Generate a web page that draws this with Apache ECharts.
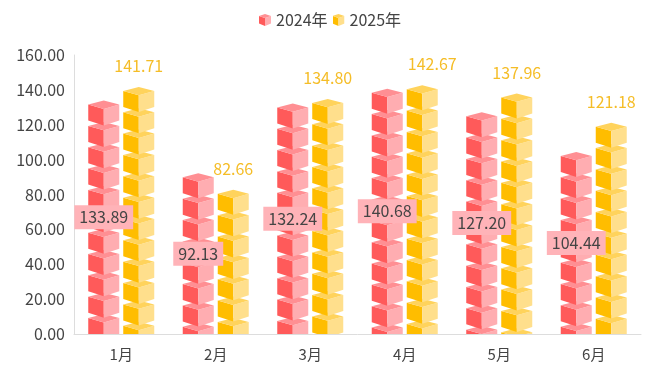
<!DOCTYPE html>
<html>
<head>
<meta charset="utf-8">
<style>
    html, body { margin: 0; padding: 0; background: #fff; }
    #chart { width: 656px; height: 373px; }
</style>
<script src="https://cdn.jsdelivr.net/npm/echarts@6/dist/echarts.min.js"></script>
</head>
<body>
<div id="chart"></div>
<script>
    const categories = ['1月', '2月', '3月', '4月', '5月', '6月']
    const values2024 = [133.89, 92.13, 132.24, 140.68, 127.20, 104.44]
    const values2025 = [141.71, 82.66, 134.80, 142.67, 137.96, 121.18]

    const fontFamily = '"Noto Sans CJK SC", "Noto Sans", sans-serif'
    const red = { left: '#ff5a5a', right: '#ffadb1', top: '#ff8f93' }
    const yellow = { left: '#ffbd00', right: '#ffdf8c', top: '#ffd35c' }

    // cube shape, in px
    const cubeWidth = 31
    const cubeStep = 21.35

    function legendIcon(c) {
        const svg = '<svg xmlns="http://www.w3.org/2000/svg" width="62" height="62" viewBox="0 0 62 50" preserveAspectRatio="none">' +
            '<polygon points="0,8 31,17 31,50 0,40" fill="' + c.left + '"/>' +
            '<polygon points="62,8 31,17 31,50 62,40" fill="' + c.right + '"/>' +
            '<polygon points="31,0 62,8 31,17 0,8" fill="' + c.top + '"/>' +
            '</svg>'
        return 'image://data:image/svg+xml;charset=utf-8,' + encodeURIComponent(svg)
    }

    function cubeShapes(x, y, c) {
        const w = cubeWidth
        const m = x + w / 2
        const face = (points, fill) => ({ type: 'polygon', shape: { points: points }, style: { fill: fill } })
        return [
            face([[x, y + 4], [m, y + 8.4], [m, y + 25], [x, y + 20]], c.left),
            face([[x + w, y + 4], [m, y + 8.4], [m, y + 25], [x + w, y + 20]], c.right),
            face([[m, y], [x + w, y + 4], [m, y + 8.4], [x, y + 4]], c.top)
        ]
    }

    function cubeSeries(name, values, c, offset, makeLabel) {
        return {
            name: name,
            type: 'custom',
            data: values.map((v, i) => [i, v]),
            encode: { x: 0, y: 1 },
            renderItem(params, api) {
                const value = api.value(1)
                const top = api.coord([api.value(0), value])
                const base = api.coord([api.value(0), 0])
                const cx = top[0] + offset
                const x = cx - cubeWidth / 2
                // stack goes down from the value, upper cubes overlap the lower ones
                let ys = []
                for (let y = top[1]; y < base[1]; y += cubeStep) {
                    ys.push(y)
                }
                let cubes = []
                ys.reverse().forEach(y => {
                    cubes = cubes.concat(cubeShapes(x, y, c))
                })
                return {
                    type: 'group',
                    children: [
                        {
                            type: 'group',
                            clipPath: {
                                type: 'rect',
                                shape: { x: x - 1, y: top[1] - 1, width: cubeWidth + 2, height: base[1] - top[1] + 1 }
                            },
                            children: cubes
                        },
                        makeLabel(cx, top[1], base[1], value, params.dataIndex)
                    ]
                }
            }
        }
    }

    function insideLabel(cx, top, base, value) {
        return {
            type: 'text',
            z2: 100,
            x: cx,
            y: (top + base) / 2,
            style: {
                text: value.toFixed(2),
                align: 'center',
                verticalAlign: 'middle',
                fontSize: 16,
                fontFamily: fontFamily,
                fill: '#444',
                backgroundColor: '#ffb3b8',
                padding: [3, 5],
                lineHeight: 18
            }
        }
    }

    function topLabel(cx, top, base, value, index) {
        return {
            type: 'text',
            z2: 100,
            // the April label sits a bit to the right in the original
            x: index === 3 ? cx + 10 : cx,
            y: top - 21,
            style: {
                text: value.toFixed(2),
                align: 'center',
                verticalAlign: 'middle',
                fontSize: 16,
                fontFamily: fontFamily,
                fill: '#f5bd27'
            }
        }
    }

    const chart = echarts.init(document.getElementById('chart'))
    chart.setOption({
        animation: false,
        textStyle: { fontFamily: fontFamily },
        legend: {
            top: 7,
            left: 254,
            itemWidth: 12,
            itemHeight: 12,
            itemGap: 5,
            symbolKeepAspect: false,
            textStyle: { fontSize: 16, color: '#444', fontFamily: fontFamily },
            data: [
                { name: '2024年', icon: legendIcon(red) },
                { name: '2025年', icon: legendIcon(yellow) }
            ]
        },
        grid: { left: 74, right: 15, top: 55, bottom: 39 },
        xAxis: {
            type: 'category',
            data: categories,
            axisTick: { show: false },
            axisLine: { lineStyle: { color: '#ddd' } },
            axisLabel: { fontSize: 15, color: '#444', margin: 13 }
        },
        yAxis: {
            type: 'value',
            min: 0,
            max: 160,
            interval: 20,
            splitLine: { show: false },
            axisTick: { show: false },
            axisLine: { show: true, lineStyle: { color: '#ddd' } },
            axisLabel: {
                fontSize: 16,
                color: '#444',
                margin: 9,
                formatter: v => v.toFixed(2)
            }
        },
        series: [
            cubeSeries('2024年', values2024, red, -17.5, insideLabel),
            cubeSeries('2025年', values2025, yellow, 17.5, topLabel)
        ]
    })
</script>
</body>
</html>
